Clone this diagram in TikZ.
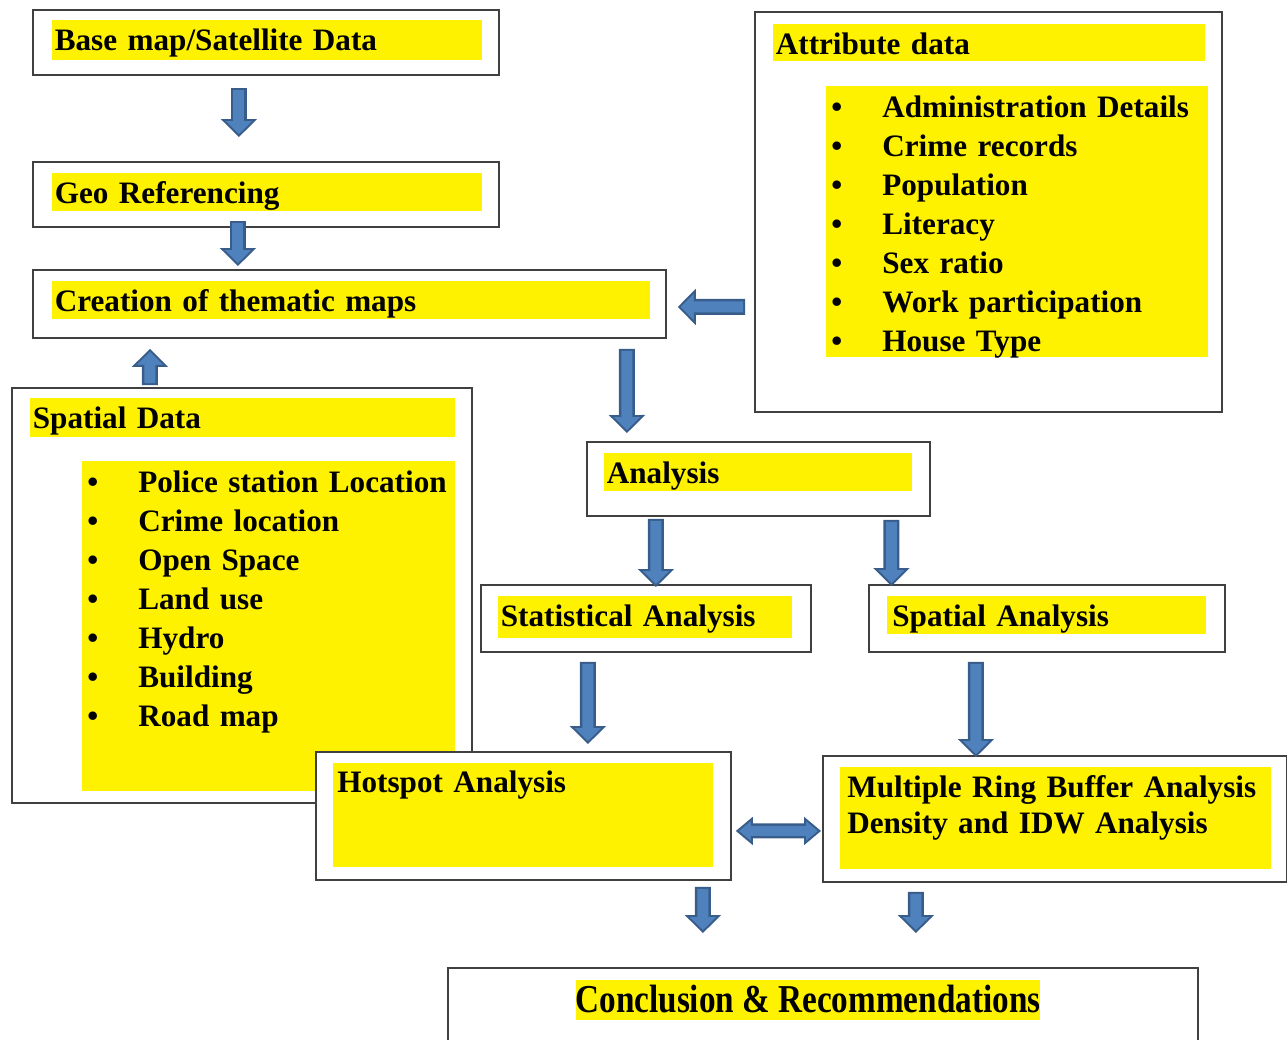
\documentclass[tikz,border=0pt]{standalone}
\usepackage{fontspec}
\setmainfont{Liberation Serif}
\newfontfamily\condserif[FakeStretch=0.84]{Liberation Serif}
\usepackage{tikz}
\usetikzlibrary{arrows.meta}

\definecolor{boxline}{HTML}{404040}
\definecolor{arrowfill}{HTML}{4F81BD}
\definecolor{arrowedge}{HTML}{385D8A}
\newcommand{\bulletitem}[1]{\mbox{\makebox[1.02cm][l]{\textbullet}#1}}

\begin{document}
\begin{tikzpicture}[x=0.02cm, y=-0.02cm,
    font=\fontsize{17.75}{22.2}\selectfont\bfseries,
    frame/.style={draw=boxline, line width=1.1pt, fill=white, anchor=north west, inner sep=0pt},
    hl/.style={fill=yellow, anchor=base west, inner ysep=0pt, inner xsep=0.05cm, align=left, text height=0.6cm, text depth=0.16cm},
    barrow/.style={draw=arrowedge, line width=0.32cm,
      -{Triangle[width=0.72cm, length=0.36cm, line width=1.1pt, fill=arrowfill]},
      postaction={draw=arrowfill, line width=0.22cm, -, shorten <=1.1pt, shorten >=0.3cm}},
    darrow/.style={draw=arrowedge, line width=0.30cm,
      {Triangle[width=0.56cm, length=0.34cm, line width=1.1pt, fill=arrowfill]}-{Triangle[width=0.56cm, length=0.34cm, line width=1.1pt, fill=arrowfill]},
      postaction={draw=arrowfill, line width=0.20cm, -, shorten <=0.28cm, shorten >=0.28cm}}]
  \useasboundingbox (0,0) rectangle (1287,1039);

  % Columna izquierda
  \node[frame, minimum width=9.32cm, minimum height=1.30cm] (base) at (32,9) {};
  \node[hl, text width=8.50cm, text depth=0.2cm] (basetxt) at (52,50) {Base map/Satellite Data};
  \node[frame, minimum width=9.32cm, minimum height=1.30cm] (geo) at (32,161) {};
  \node[hl, text width=8.50cm] (geotxt) at (52,203) {Geo Referencing};
  \node[frame, minimum width=12.66cm, minimum height=1.36cm] (thematic) at (32,269) {};
  \node[hl, text width=11.86cm] (thematictxt) at (52,311) {Creation of thematic maps};

  % Datos de atributos
  \node[frame, minimum width=9.34cm, minimum height=8.00cm] (attr) at (754,11) {};
  \node[hl, text width=8.54cm, text depth=0.14cm] (attrtxt) at (773,54) {Attribute data};
  \node[hl, inner xsep=0.1cm, text width=7.44cm, text height=0.62cm, text depth=4.8cm] (attrlist) at (826,117)
    {\bulletitem{Administration Details}\\ \bulletitem{Crime records}\\ \bulletitem{Population}\\ \bulletitem{Literacy}\\
     \bulletitem{Sex ratio}\\ \bulletitem{Work participation}\\ \bulletitem{House Type}};

  % Datos espaciales
  \node[frame, minimum width=9.20cm, minimum height=8.30cm] (spatial) at (11,387) {};
  \node[hl, text width=8.40cm, text depth=0.18cm] (spatialtxt) at (30,428) {Spatial Data};
  \node[hl, inner xsep=0.1cm, text width=7.26cm, text height=0.62cm, text depth=5.98cm] (spatiallist) at (82,492)
    {\bulletitem{Police station Location}\\ \bulletitem{Crime location}\\ \bulletitem{Open Space}\\ \bulletitem{Land use}\\
     \bulletitem{Hydro}\\ \bulletitem{Building}\\ \bulletitem{Road map}};

  % Analisis
  \node[frame, minimum width=6.86cm, minimum height=1.48cm] (analysis) at (586,441) {};
  \node[hl, text width=6.06cm] (analysistxt) at (604,483) {Analysis};
  \node[frame, minimum width=6.60cm, minimum height=1.34cm] (stat) at (480,584) {};
  \node[hl, text width=5.78cm, text depth=0.24cm] (stattxt) at (498,626) {Statistical Analysis};
  \node[frame, minimum width=7.12cm, minimum height=1.34cm] (spana) at (868,584) {};
  \node[hl, inner xsep=0.1cm, text width=6.18cm] (spanatxt) at (887,626) {Spatial Analysis};
  \node[frame, minimum width=8.30cm, minimum height=2.56cm] (hotspot) at (315,751) {};
  \node[hl, inner xsep=0.08cm, text width=7.44cm, text height=0.58cm, text depth=1.5cm] (hotspottxt) at (333,792) {Hotspot Analysis};
  \node[frame, minimum width=9.28cm, minimum height=2.52cm] (buffer) at (822,755) {};
  \node[hl, inner xsep=0.14cm, text width=8.34cm, text depth=1.44cm, font=\fontsize{17.75}{21}\selectfont\bfseries] (buffertxt) at (840,797)
    {\mbox{Multiple Ring Buffer Analysis}\\\mbox{Density and IDW Analysis}};

  % Conclusion
  \node[frame, minimum width=15.00cm, minimum height=2.00cm] (concl) at (447,967) {};
  \node[fill=yellow, inner sep=0pt, text height=0.64cm, text depth=0.16cm, anchor=base,
    font=\condserif\fontsize{22.5}{26}\selectfont\bfseries] (concltxt) at (808,1012) {Conclusion \& Recommendations};

  % Flechas
  \draw[barrow] ([xshift=-0.54cm,yshift=-0.24cm]base.south) -- ([xshift=-0.54cm,yshift=0.48cm]geo.north);
  \draw[barrow] ([xshift=-0.56cm,yshift=0.14cm]geo.south) -- ([xshift=-2.23cm,yshift=0.06cm]thematic.north);
  \draw[barrow] ([xshift=-1.84cm,yshift=0.04cm]spatial.north) -- ([xshift=-3.99cm,yshift=-0.2cm]thematic.south);
  \draw[barrow] ([xshift=-0.18cm,yshift=-1.9cm]attr.west) -- ([xshift=0.22cm,yshift=-0.06cm]thematic.east);
  \draw[barrow] ([xshift=5.55cm,yshift=-0.2cm]thematic.south) -- ([xshift=-2.63cm,yshift=0.16cm]analysis.north);
  \draw[barrow] ([xshift=-2.05cm,yshift=-0.04cm]analysis.south) -- ([xshift=0.2cm,yshift=-0.06cm]stat.north);
  \draw[barrow] ([xshift=2.66cm,yshift=-0.06cm]analysis.south) -- ([xshift=-3.11cm,yshift=-0.04cm]spana.north);
  \draw[barrow] ([xshift=-1.16cm,yshift=-0.18cm]stat.south) -- ([xshift=1.29cm,yshift=0.14cm]hotspot.north);
  \draw[barrow] ([xshift=-1.42cm,yshift=-0.18cm]spana.south) -- ([xshift=-1.58cm,yshift=-0.04cm]buffer.north);
  \draw[darrow] ([xshift=0.08cm,yshift=-0.3cm]hotspot.east) -- ([xshift=-0.02cm,yshift=-0.24cm]buffer.west);
  \draw[barrow] ([xshift=3.59cm,yshift=-0.12cm]hotspot.south) -- ([xshift=-2.4cm,yshift=0.68cm]concl.north);
  \draw[barrow] ([xshift=-2.78cm,yshift=-0.18cm]buffer.south) -- ([xshift=1.86cm,yshift=0.68cm]concl.north);
\end{tikzpicture}
\end{document}
